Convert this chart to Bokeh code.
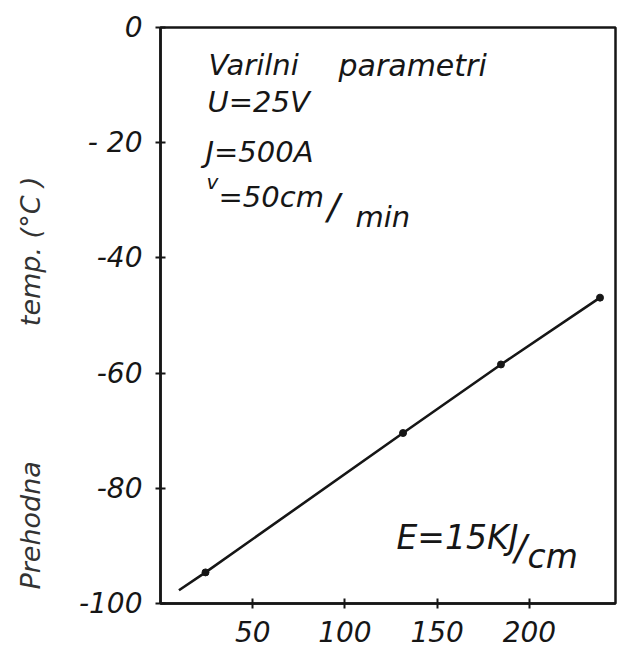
from bokeh.plotting import figure
from bokeh.models import Range1d, Label, FixedTicker
from bokeh.embed import file_html
from bokeh.resources import INLINE

# Heat input per unit length (x) versus transition temperature (y)
heat_input = [24.4, 131.5, 184.6, 238.3]
transition_temp = [-94.6, -70.4, -58.5, -46.9]

# Fitted line drawn from its lower start through the measured points
line_x = [10.0] + heat_input
line_y = [-97.7] + transition_temp

x_ticks = [50, 100, 150, 200]
y_ticks = [0, -20, -40, -60, -80, -100]
y_tick_labels = ["0", "- 20", "-40", "-60", "-80", "-100"]

FONT = "DejaVu Sans"
INK = "#161616"

X0, X1 = 0.0, 246.7
Y0, Y1 = -100.0, 0.0
FRAME_W, FRAME_H = 455, 576
LEFT, TOP = 160, 27

p = figure(
    frame_width=FRAME_W, frame_height=FRAME_H,
    min_border_left=LEFT, min_border_right=5,
    min_border_top=TOP, min_border_bottom=47,
    x_range=Range1d(X0, X1), y_range=Range1d(Y0, Y1),
    output_backend="svg", toolbar_location=None,
    background_fill_color="white", border_fill_color="white",
)

p.grid.visible = False
p.outline_line_color = INK
p.outline_line_width = 2.5

for ax in (p.xaxis[0], p.yaxis[0]):
    ax.axis_line_color = INK
    ax.axis_line_width = 2.5
    ax.major_tick_line_color = INK
    ax.major_tick_line_width = 2
    ax.major_tick_in = 5
    ax.major_tick_out = 5
    ax.minor_tick_line_color = None
    ax.major_label_text_font = FONT
    ax.major_label_text_font_style = "italic"
    ax.major_label_text_font_size = "28px"
    ax.major_label_text_color = INK

p.xaxis.ticker = FixedTicker(ticks=x_ticks)
p.xaxis.major_label_standoff = 12
p.yaxis.ticker = FixedTicker(ticks=y_ticks)
p.yaxis.major_label_overrides = {t: s for t, s in zip(y_ticks, y_tick_labels)}
p.yaxis.major_label_standoff = 13

# Vertical axis title: wide gap between the words, padded at the top end
EM = "\u2003"
p.yaxis.axis_label = "Prehodna" + EM * 5 + "temp. (°C )" + EM * 5
p.yaxis.axis_label_text_font = FONT
p.yaxis.axis_label_text_font_style = "italic"
p.yaxis.axis_label_text_font_size = "27px"
p.yaxis.axis_label_text_color = "#333333"
p.yaxis.axis_label_standoff = 30

p.line(line_x, line_y, line_color=INK, line_width=2.6)
p.scatter(heat_input, transition_temp, size=7, color=INK)


def add_text(px, py, text, size):
    """Place italic text with its left edge at px and its baseline at py (canvas pixels)."""
    x = X0 + (px - LEFT) * (X1 - X0) / FRAME_W
    y_pix = py - 0.35 * size
    y = Y0 + (TOP + FRAME_H - y_pix) * (Y1 - Y0) / FRAME_H
    p.add_layout(Label(
        x=x, y=y, text=text,
        text_font=FONT, text_font_style="italic",
        text_font_size=f"{size}px", text_color=INK,
        text_baseline="alphabetic", text_align="left",
    ))


# Welding parameters block
add_text(208, 75, "Varilni", 29)
add_text(338, 75, "parametri", 30)
add_text(207, 112, "U=25V", 29)
add_text(205, 162, "J=500A", 29)
add_text(206, 188, "v", 20)
add_text(218, 207, "=50cm", 29)
add_text(327, 219, "/", 36)
add_text(355, 227, "min", 29)

# Energy per unit length
add_text(396, 549, "E=15KJ", 33)
add_text(514, 560, "/", 36)
add_text(527, 568, "cm", 33)

open("out.html", "w").write(file_html(p, INLINE))
